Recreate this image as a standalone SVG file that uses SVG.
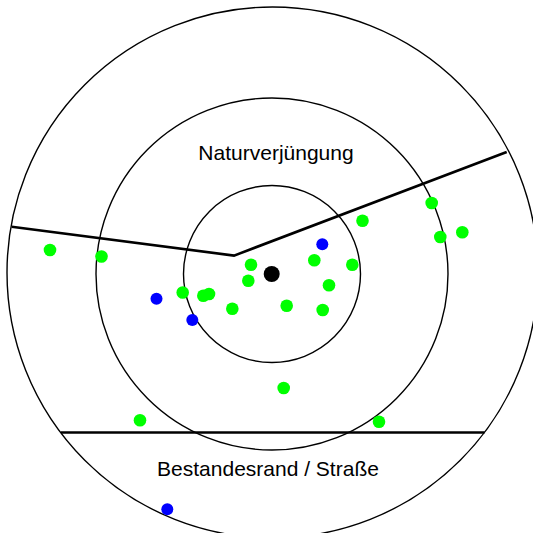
<svg xmlns="http://www.w3.org/2000/svg" width="533" height="533" viewBox="0 0 533 533">
<style>
.ring{fill:none;stroke:#000;stroke-width:1.4}
.edge{fill:none;stroke:#000;stroke-width:2.6;stroke-linejoin:miter}
.g{fill:#00ff00}
.b{fill:#0000ff}
.k{fill:#000}
.lbl{font-family:"Liberation Sans",Arial,sans-serif;font-size:21px;fill:#000;text-anchor:middle}
</style>
<rect width="533" height="533" fill="#fff"/>
<g id="rings">
<circle id="ring-outer" class="ring" cx="272.5" cy="272.5" r="265.5"/>
<circle id="ring-middle" class="ring" cx="272" cy="274" r="176"/>
<circle id="ring-inner" class="ring" cx="272" cy="274" r="88.5"/>
</g>
<g id="connectors">
<polyline class="edge" points="11.7,226.7 234,255.6 506.7,152"/>
<line class="edge" x1="61" y1="432.5" x2="484.5" y2="432.5"/>
</g>
<g id="labels">
<text id="label-natur" class="lbl" x="276" y="160">Naturverjüngung</text>
<text id="label-rand" class="lbl" x="268" y="476">Bestandesrand / Straße</text>
</g>
<g id="green-dots">
<circle class="g" cx="50" cy="250" r="6.3"/>
<circle class="g" cx="101.5" cy="256.5" r="6.3"/>
<circle class="g" cx="182.7" cy="292.5" r="6.3"/>
<circle class="g" cx="203.3" cy="295.7" r="6.3"/>
<circle class="g" cx="209" cy="294" r="6.3"/>
<circle class="g" cx="232.3" cy="308.7" r="6.3"/>
<circle class="g" cx="248.3" cy="280.7" r="6.3"/>
<circle class="g" cx="251" cy="264.7" r="6.3"/>
<circle class="g" cx="286.7" cy="305.7" r="6.3"/>
<circle class="g" cx="314.3" cy="260.3" r="6.3"/>
<circle class="g" cx="329" cy="285.3" r="6.3"/>
<circle class="g" cx="322.7" cy="310" r="6.3"/>
<circle class="g" cx="352.3" cy="264.7" r="6.3"/>
<circle class="g" cx="362.5" cy="220.7" r="6.3"/>
<circle class="g" cx="431.7" cy="203" r="6.3"/>
<circle class="g" cx="440.3" cy="237" r="6.3"/>
<circle class="g" cx="462.3" cy="232.3" r="6.3"/>
<circle class="g" cx="283.7" cy="388" r="6.3"/>
<circle class="g" cx="140" cy="420.3" r="6.3"/>
<circle class="g" cx="379" cy="421.7" r="6.3"/>
</g>
<g id="blue-dots">
<circle class="b" cx="156.5" cy="298.8" r="6"/>
<circle class="b" cx="322.3" cy="244.3" r="6"/>
<circle class="b" cx="192.3" cy="320" r="6"/>
<circle class="b" cx="167.3" cy="509.3" r="6"/>
</g>
<g id="center">
<circle class="k" cx="271.7" cy="274" r="8"/>
</g>
</svg>
